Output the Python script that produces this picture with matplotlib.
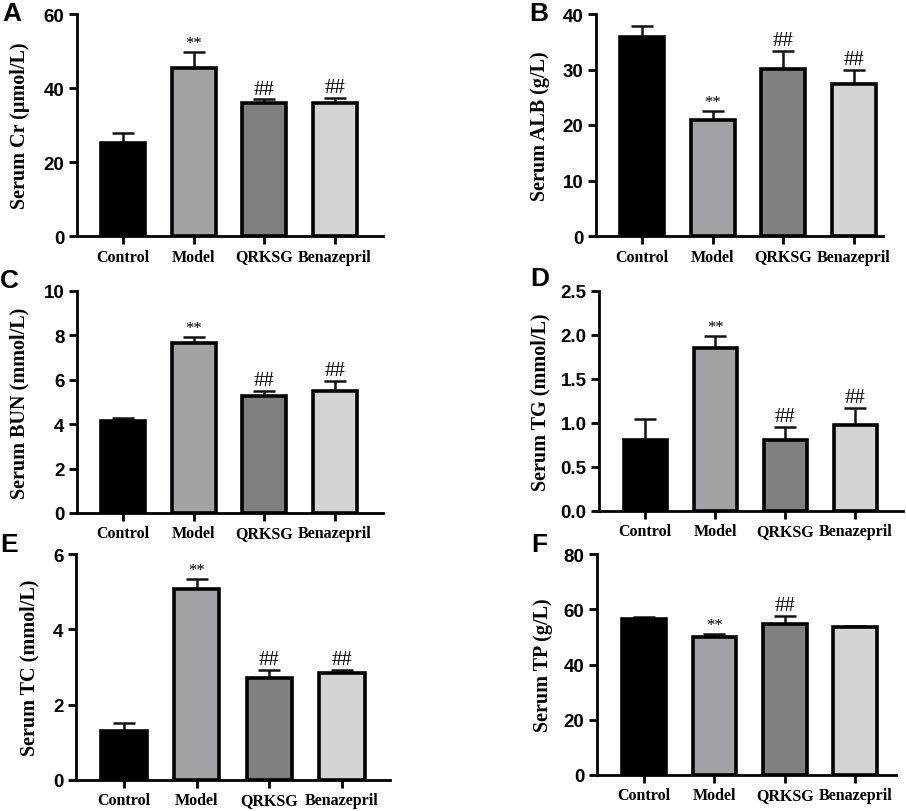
import matplotlib.pyplot as plt

plt.rcParams["font.family"] = ["Liberation Sans", "DejaVu Sans"]

W, H = 906, 812

groups = ["Control", "Model", "QRKSG", "Benazepril"]
bar_colors = ["#000000", "#a2a2a7", "#808080", "#d4d4d4"]

# panel A - serum creatinine
cr_mean = [25.1, 45.4, 36.0, 36.0]
cr_sem = [2.7, 4.4, 0.9, 1.4]
cr_marks = ["", "**", "##", "##"]

# panel B - albumin
alb_mean = [35.9, 20.9, 30.1, 27.3]
alb_sem = [2.0, 1.6, 3.3, 2.6]
alb_marks = ["", "**", "##", "##"]

# panel C - BUN
bun_mean = [4.15, 7.65, 5.29, 5.49]
bun_sem = [0.11, 0.30, 0.20, 0.46]
bun_marks = ["", "**", "##", "##"]

# panel D - TG
tg_mean = [0.81, 1.85, 0.81, 0.98]
tg_sem = [0.24, 0.14, 0.15, 0.19]
tg_marks = ["", "**", "##", "##"]

# panel E - TC
tc_mean = [1.30, 5.07, 2.70, 2.83]
tc_sem = [0.22, 0.27, 0.22, 0.10]
tc_marks = ["", "**", "##", "##"]

# panel F - TP
tp_mean = [56.3, 50.1, 54.6, 53.6]
tp_sem = [1.0, 0.9, 2.9, 0.4]
tp_marks = ["", "**", "##", ""]

serif_bold = dict(family=["Liberation Serif", "DejaVu Serif"], weight="bold")


def px_axes(fig, left, right, top, bottom):
    return fig.add_axes([left / W, 1 - bottom / H, (right - left) / W, (bottom - top) / H])


def draw_panel(ax, means, sems, marks, ylabel, yticks, xlim, label_x, ticklabels=None):
    x = list(range(len(groups)))
    ax.errorbar(x, means, yerr=[[0] * len(sems), sems], fmt="none", ecolor="#111111",
                elinewidth=1.8, capsize=8, capthick=1.8, zorder=1)
    ax.bar(x, means, width=0.62, color=bar_colors, edgecolor="black", linewidth=2.6, zorder=2)

    for xi, m, s, mk in zip(x, means, sems, marks):
        if not mk:
            continue
        size = 12 if mk == "**" else 15
        ax.annotate(mk, (xi, m + s), xytext=(0, 0.5), textcoords="offset points",
                    ha="center", va="bottom", fontsize=size,
                    family=["Liberation Serif", "DejaVu Serif"])

    ax.set_xlim(*xlim)
    ax.set_ylim(yticks[0], yticks[-1])
    ax.set_yticks(yticks)
    if ticklabels is not None:
        ax.set_yticklabels(ticklabels)
    ax.set_xticks(x)
    ax.set_xticklabels(groups, fontsize=11.5, **serif_bold)
    for lab in ax.get_yticklabels():
        lab.set_fontweight("bold")
        lab.set_fontsize(13.5)

    ax.set_ylabel(ylabel, fontsize=14.5, **serif_bold)
    ax.yaxis.set_label_coords(label_x, 0.5)

    for side in ["top", "right"]:
        ax.spines[side].set_visible(False)
    for side in ["left", "bottom"]:
        ax.spines[side].set_linewidth(2.0)
    ax.tick_params(axis="both", length=6, width=2.0, pad=3)


def main() -> None:
    fig = plt.figure(figsize=(W / 100, H / 100), dpi=100)

    ax_a = px_axes(fig, 77, 383, 15, 237)
    draw_panel(ax_a, cr_mean, cr_sem, cr_marks, "Serum Cr (μmol/L)",
               [0, 20, 40, 60], (-0.65, 3.68), -0.154)

    ax_b = px_axes(fig, 596, 883, 15, 237)
    draw_panel(ax_b, alb_mean, alb_sem, alb_marks, "Serum ALB (g/L)",
               [0, 10, 20, 30, 40], (-0.65, 3.41), -0.16)

    ax_c = px_axes(fig, 77, 383, 292, 514)
    draw_panel(ax_c, bun_mean, bun_sem, bun_marks, "Serum BUN (mmol/L)",
               [0, 2, 4, 6, 8, 10], (-0.65, 3.68), -0.154)

    ax_d = px_axes(fig, 599, 903, 292, 512)
    draw_panel(ax_d, tg_mean, tg_sem, tg_marks, "Serum TG (mmol/L)",
               [0.0, 0.5, 1.0, 1.5, 2.0, 2.5], (-0.66, 3.68), -0.161,
               ["0.0", "0.5", "1.0", "1.5", "2.0", "2.5"])

    ax_e = px_axes(fig, 76, 390, 555, 781)
    draw_panel(ax_e, tc_mean, tc_sem, tc_marks, "Serum TC (mmol/L)",
               [0, 2, 4, 6], (-0.66, 3.66), -0.115)

    ax_f = px_axes(fig, 597, 896, 555, 776)
    draw_panel(ax_f, tp_mean, tp_sem, tp_marks, "Serum TP (g/L)",
               [0, 20, 40, 60, 80], (-0.67, 3.58), -0.147)

    # panel letters
    for letter, lx, ly in [("A", 2, 2), ("B", 529, 2), ("C", 0, 269),
                           ("D", 530, 267), ("E", 0, 533), ("F", 531, 533)]:
        fig.text(lx / W, 1 - ly / H, letter, fontsize=19, fontweight="bold",
                 ha="left", va="top")

    fig.savefig("out.png", dpi=100)
    plt.close(fig)


if __name__ == "__main__":
    main()
